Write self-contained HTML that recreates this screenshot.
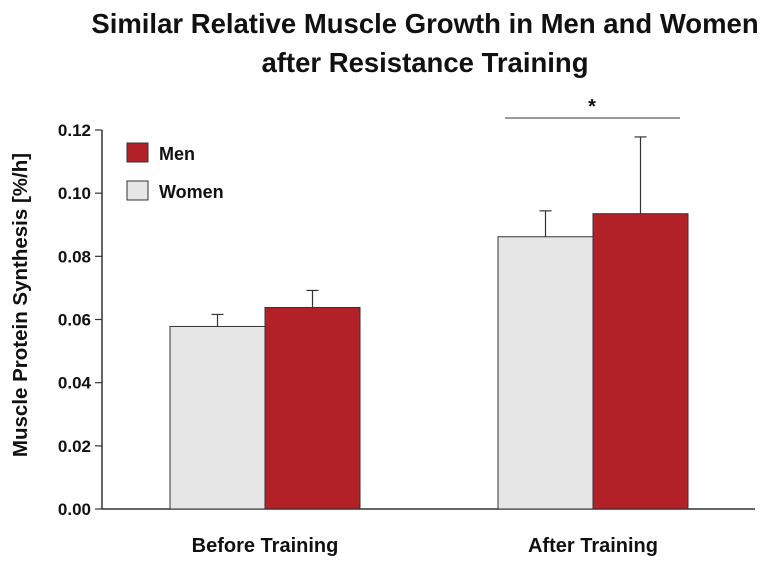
<!DOCTYPE html>
<html><head><meta charset="utf-8"><style>
body{margin:0;background:#fff;}
svg text{font-family:"Liberation Sans",sans-serif;font-weight:bold;fill:#111;}
</style></head><body>
<svg id="chart" width="768" height="563">
<text x="425" y="33" text-anchor="middle" font-size="27.5">Similar Relative Muscle Growth in Men and Women</text>
<text x="425" y="72" text-anchor="middle" font-size="27.5">after Resistance Training</text>
<text transform="translate(27,305) rotate(-90)" text-anchor="middle" font-size="20.5">Muscle Protein Synthesis [%/h]</text>
<g id="axes"></g><g id="bars"></g>
<line x1="505" y1="118" x2="680" y2="118" stroke="#333" stroke-width="1"/>
<text x="592" y="113" text-anchor="middle" font-size="20">*</text>
<rect x="127" y="143" width="21" height="19" fill="#b22128" stroke="#333"/>
<text x="159" y="160" font-size="18">Men</text>
<rect x="127" y="181" width="21" height="19" fill="#e6e6e6" stroke="#333"/>
<text x="159" y="198" font-size="18">Women</text>
</svg>
<script>
const categories=["Before Training","After Training"];
const women=[0.0578,0.0862];
const womenErr=[0.0038,0.0082];
const men=[0.0638,0.0935];
const menErr=[0.0054,0.0243];
const ticks=[0,0.02,0.04,0.06,0.08,0.10,0.12];
const tickLabels=["0.00","0.02","0.04","0.06","0.08","0.10","0.12"];
const NS="http://www.w3.org/2000/svg";
const y=v=>509-v/0.12*379;
const groupX=[170,498];
function mk(t,a,p){const e=document.createElementNS(NS,t);for(const k in a)e.setAttribute(k,a[k]);p.appendChild(e);return e;}
const ax=document.getElementById('axes'),bg=document.getElementById('bars');
const yl=mk('line',{x1:102,y1:y(0.12),x2:102,y2:509,stroke:'#333','stroke-width':1.5},ax);


const xl=mk('line',{x1:102,y1:509,x2:755,y2:509,stroke:'#333','stroke-width':1.5},ax);


ticks.forEach((t,i)=>{
 const l=mk('line',{x1:95,x2:102,y1:y(t),y2:y(t),stroke:'#333','stroke-width':1.2},ax);
 
 
 const tx=mk('text',{x:91,y:y(t)+6,'text-anchor':'end','font-size':17},ax);
 tx.textContent=tickLabels[i];
 
 
});
categories.forEach((c,i)=>{
 const x0=groupX[i],w=95;
 [[women,womenErr,'#e6e6e6','women',x0],[men,menErr,'#b22128','men',x0+w]].forEach(([v,e,f,n,x])=>{
  const eh=y(v[i]+e[i]);
  const el=mk('line',{x1:x+w/2,x2:x+w/2,y1:eh,y2:y(v[i]),stroke:'#333','stroke-width':1.2},bg);
  
  
  const ec=mk('line',{x1:x+w/2-6,x2:x+w/2+6,y1:eh,y2:eh,stroke:'#333','stroke-width':1.2},bg);
  
  
  const r=mk('rect',{x:x,y:y(v[i]),width:w,height:509-y(v[i]),fill:f,stroke:'#333','stroke-width':1},bg);
  
  
 });
 const t=mk('text',{x:x0+95,y:552,'text-anchor':'middle','font-size':20},bg);
 t.textContent=c;
 
 
});
</script>
</body></html>
